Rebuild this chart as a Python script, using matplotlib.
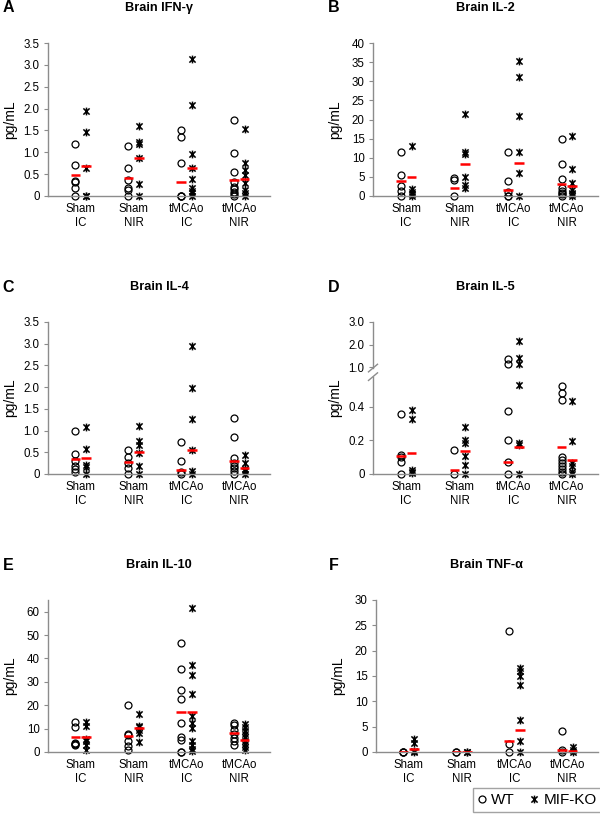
import numpy as np
import matplotlib
matplotlib.use("Agg")
import matplotlib.pyplot as plt
from matplotlib.path import Path
from matplotlib.lines import Line2D

plt.rcParams["font.family"] = ["Liberation Sans", "DejaVu Sans"]

# -----------------------------
# 1. DATA
# -----------------------------
groups = ["Sham\nIC", "Sham\nNIR", "tMCAo\nIC", "tMCAo\nNIR"]

# A: IFN-gamma
ifn_wt = [[1.19, 0.72, 0.35, 0.32, 0.19, 0],
          [1.15, 0.65, 0.37, 0.18, 0.14, 0],
          [1.50, 1.36, 0.75, 0, 0, 0],
          [1.73, 0.99, 0.56, 0.31, 0.21, 0.15, 0.10, 0.05, 0]]
ifn_ko = [[1.95, 1.47, 0.63, 0, 0],
          [1.60, 1.24, 1.18, 0.86, 0.27, 0],
          [3.13, 2.08, 0.96, 0.65, 0.38, 0.18, 0.12, 0.06, 0],
          [1.54, 0.75, 0.60, 0.48, 0.29, 0.14, 0.08, 0]]
ifn_wt_mid = [0.47, 0.42, 0.33, 0.37]
ifn_ko_mid = [0.68, 0.86, 0.65, 0.38]

# B: IL-2
il2_wt = [[11.5, 5.4, 2.6, 1.4, 0],
          [4.6, 4.2, 0],
          [11.4, 4.0, 1.1, 0, 0],
          [14.8, 8.4, 4.4, 2.0, 1.4, 0.9, 0.4, 0]]
il2_ko = [[13.2, 1.7, 1.1, 0.6, 0],
          [21.4, 11.6, 11.0, 4.9, 2.9, 2.2],
          [35.2, 31.1, 20.9, 11.4, 5.9, 0],
          [15.7, 7.1, 3.3, 1.6, 0.9, 0.4, 0]]
il2_wt_mid = [3.8, 2.2, 1.5, 3.1]
il2_ko_mid = [5.0, 8.4, 8.7, 2.5]

# C: IL-4
il4_wt = [[0.99, 0.47, 0.29, 0.18, 0.11, 0.05],
          [0.56, 0.38, 0.25, 0.14, 0.01],
          [0.73, 0.29, 0.04, 0],
          [1.28, 0.86, 0.37, 0.25, 0.19, 0.14, 0.08, 0]]
il4_ko = [[1.08, 0.58, 0.21, 0.16, 0],
          [1.11, 0.77, 0.66, 0.48, 0.18, 0],
          [2.94, 1.99, 1.26, 0.56, 0.08, 0],
          [0.44, 0.25, 0.11, 0.06, 0]]
il4_wt_mid = [0.34, 0.27, 0.10, 0.31]
il4_ko_mid = [0.37, 0.51, 0.56, 0.13]

# D: IL-5 (broken axis)
il5_wt = [[0.354, 0.11, 0.10, 0.069, 0],
          [0.142, 0],
          [1.38, 1.15, 0.372, 0.2, 0.069, 0],
          [0.52, 0.48, 0.44, 0.10, 0.085, 0.065, 0.045, 0.03, 0.014, 0]]
il5_ko = [[0.378, 0.325, 0.026, 0.012, 0.005],
          [0.278, 0.2, 0.187, 0.108, 0.055, 0],
          [2.15, 1.42, 1.14, 0.53, 0.183, 0.17, 0],
          [0.433, 0.195, 0.065, 0.05, 0.014, 0.002]]
il5_wt_mid = [0.105, 0.024, 0.071, 0.161]
il5_ko_mid = [0.122, 0.138, 0.16, 0.083]

# E: IL-10
il10_wt = [[13.0, 10.9, 3.8, 3.5, 3.3, 3.1],
           [20.1, 7.7, 7.1, 4.9, 2.4, 1.0],
           [46.4, 35.3, 26.5, 22.7, 12.6, 6.6, 5.2, 0, 0],
           [12.6, 11.6, 9.5, 7.8, 6.0, 4.5, 3.1]]
il10_ko = [[12.8, 11.3, 5.7, 4.5, 3.1, 1.0],
           [16.4, 11.3, 10.6, 9.2, 8.3, 4.3],
           [61.5, 37.0, 32.8, 24.8, 15.6, 12.3, 10.2, 4.5, 3.1, 1.4, 0.3],
           [11.9, 10.5, 9.1, 7.7, 6.4, 4.8, 3.4, 2.0, 1.0]]
il10_wt_mid = [6.4, 6.9, 16.9, 8.1]
il10_ko_mid = [6.4, 10.1, 16.9, 5.1]

# F: TNF-alpha
tnf_wt = [[0, 0, 0],
          [0, 0],
          [23.9, 1.6, 0],
          [4.2, 0.4, 0]]
tnf_ko = [[2.5, 1.8, 0.1, 0],
          [0, 0],
          [16.5, 15.9, 15.0, 13.3, 6.4, 2.1, 0],
          [1.0, 0.4, 0]]
tnf_wt_mid = [0, 0, 2.2, 0.3]
tnf_ko_mid = [0.6, 0, 4.4, 0.1]

# -----------------------------
# 2. HELPERS
# -----------------------------
W, H = 600, 832
GRAY = "#8c8c8c"

# excel "star" marker: x with a vertical bar
star = Path([(-1, -1), (1, 1), (-1, 1), (1, -1), (0, -1.25), (0, 1.25)],
            [Path.MOVETO, Path.LINETO] * 3)


def px_axes(fig, x0, y0, x1, y1):
    return fig.add_axes([x0 / W, 1 - y1 / H, (x1 - x0) / W, (y1 - y0) / H])


def ftext(fig, x, y, s, **kw):
    fig.text(x / W, 1 - y / H, s, ha="center", va="center", **kw)


def draw_panel(ax, wt, ko, wt_mid, ko_mid):
    for i in range(len(groups)):
        ax.plot([i - 0.1] * len(wt[i]), wt[i], linestyle="none", marker="o",
                ms=5.0, mfc="none", mec="black", mew=0.9, clip_on=False, zorder=2)
        ax.plot([i + 0.1] * len(ko[i]), ko[i], linestyle="none", marker=star,
                ms=5.6, mfc="none", mec="black", mew=1.1, clip_on=False, zorder=2)
    xs = np.arange(len(groups))
    ax.hlines(wt_mid, xs - 0.1 - 0.09, xs - 0.1 + 0.09, color="red", lw=1.8, zorder=3)
    ax.hlines(ko_mid, xs + 0.1 - 0.09, xs + 0.1 + 0.09, color="red", lw=1.8, zorder=3)

    ax.set_xlim(-0.62, 3.58)
    ax.set_xticks(xs)
    ax.set_xticklabels(groups, fontsize=8.3, linespacing=1.25)
    ax.tick_params(axis="x", length=0, pad=5)
    ax.tick_params(axis="y", length=3, width=0.8, color=GRAY, labelsize=8.3, pad=3)
    for side in ["top", "right"]:
        ax.spines[side].set_visible(False)
    for side in ["left", "bottom"]:
        ax.spines[side].set_color(GRAY)
        ax.spines[side].set_linewidth(1.0)
    ax.set_facecolor("none")


# piecewise scale for the IL-5 broken axis
def il5_fwd(y):
    y = np.asarray(y, dtype=float)
    return np.where(y <= 0.55, y,
                    np.where(y < 1.0, 0.55 + (y - 0.55) * (0.085 / 0.45),
                             0.635 + (y - 1.0) * 0.134))


def il5_inv(v):
    v = np.asarray(v, dtype=float)
    return np.where(v <= 0.55, v,
                    np.where(v < 0.635, 0.55 + (v - 0.55) * (0.45 / 0.085),
                             1.0 + (v - 0.635) / 0.134))


# -----------------------------
# 3. FIGURE
# -----------------------------
fig = plt.figure(figsize=(6, 8.32), dpi=100)

panels = [
    ("A", "Brain IFN-\u03b3", (48, 43, 270, 196), ifn_wt, ifn_ko, ifn_wt_mid, ifn_ko_mid),
    ("B", "Brain IL-2", (373, 43, 598, 196), il2_wt, il2_ko, il2_wt_mid, il2_ko_mid),
    ("C", "Brain IL-4", (48, 322, 270, 474), il4_wt, il4_ko, il4_wt_mid, il4_ko_mid),
    ("D", "Brain IL-5", (373, 322, 598, 474), il5_wt, il5_ko, il5_wt_mid, il5_ko_mid),
    ("E", "Brain IL-10", (48, 600, 270, 752), il10_wt, il10_ko, il10_wt_mid, il10_ko_mid),
    ("F", "Brain TNF-\u03b1", (376, 600, 598, 752), tnf_wt, tnf_ko, tnf_wt_mid, tnf_ko_mid),
]

for letter, title, box, wt, ko, wt_mid, ko_mid in panels:
    x0, y0, x1, y1 = box
    ax = px_axes(fig, x0, y0, x1, y1)
    if letter == "D":
        ax.set_yscale("function", functions=(il5_fwd, il5_inv))
    draw_panel(ax, wt, ko, wt_mid, ko_mid)

    if letter in ("A", "C"):
        ax.set_ylim(0, 3.5)
        ax.set_yticks(np.arange(0, 3.6, 0.5))
        ax.set_yticklabels(["0"] + [f"{v:.1f}" for v in np.arange(0.5, 3.6, 0.5)])
    elif letter == "B":
        ax.set_ylim(0, 40)
        ax.set_yticks(range(0, 41, 5))
    elif letter == "E":
        ax.set_ylim(0, 65)
        ax.set_yticks(range(0, 61, 10))
    elif letter == "F":
        ax.set_ylim(0, 30)
        ax.set_yticks(range(0, 31, 5))
    else:
        ax.set_ylim(0, 3.0)
        ax.set_yticks([0, 0.2, 0.4, 1.0, 2.0, 3.0])
        ax.set_yticklabels(["0", "0.2", "0.4", "1.0", "2.0", "3.0"])
        ax.yaxis.set_minor_locator(plt.NullLocator())
        # break in the value axis
        top = il5_fwd(3.0)
        f_lo = float(il5_fwd(0.7) / top)
        f_hi = float(il5_fwd(0.97) / top)
        ax.spines["left"].set_visible(False)
        ax.plot([0, 0], [0, f_lo], transform=ax.transAxes, color=GRAY, lw=1.0, clip_on=False)
        ax.plot([0, 0], [f_hi, 1], transform=ax.transAxes, color=GRAY, lw=1.0, clip_on=False)
        for f in (f_lo, f_hi):
            ax.plot([-0.02, 0.02], [f - 0.025, f + 0.025], transform=ax.transAxes,
                    color=GRAY, lw=1.0, clip_on=False)

    ftext(fig, x0 - 38, (y0 + y1) / 2, "pg/mL", rotation=90, fontsize=10)
    ftext(fig, 8 if x0 < 100 else 334, y0 - 35, letter, fontsize=11.5, fontweight="bold")
    ftext(fig, (x0 + x1) / 2, y0 - 35, title, fontsize=9.2, fontweight="bold")

# -----------------------------
# 4. LEGEND
# -----------------------------
handles = [
    Line2D([], [], linestyle="none", marker="o", ms=5.0, mfc="none", mec="black", mew=0.9),
    Line2D([], [], linestyle="none", marker=star, ms=5.6, mfc="none", mec="black", mew=1.1),
]
fig.legend(handles, ["WT", "MIF-KO"], loc="center", ncol=2,
           bbox_to_anchor=(537 / W, 1 - 800 / H), fontsize=11, frameon=True,
           fancybox=False, edgecolor=GRAY, handlelength=0.6, handletextpad=0.3,
           columnspacing=1.0, borderpad=0.3)

fig.savefig("out.png", dpi=100)
